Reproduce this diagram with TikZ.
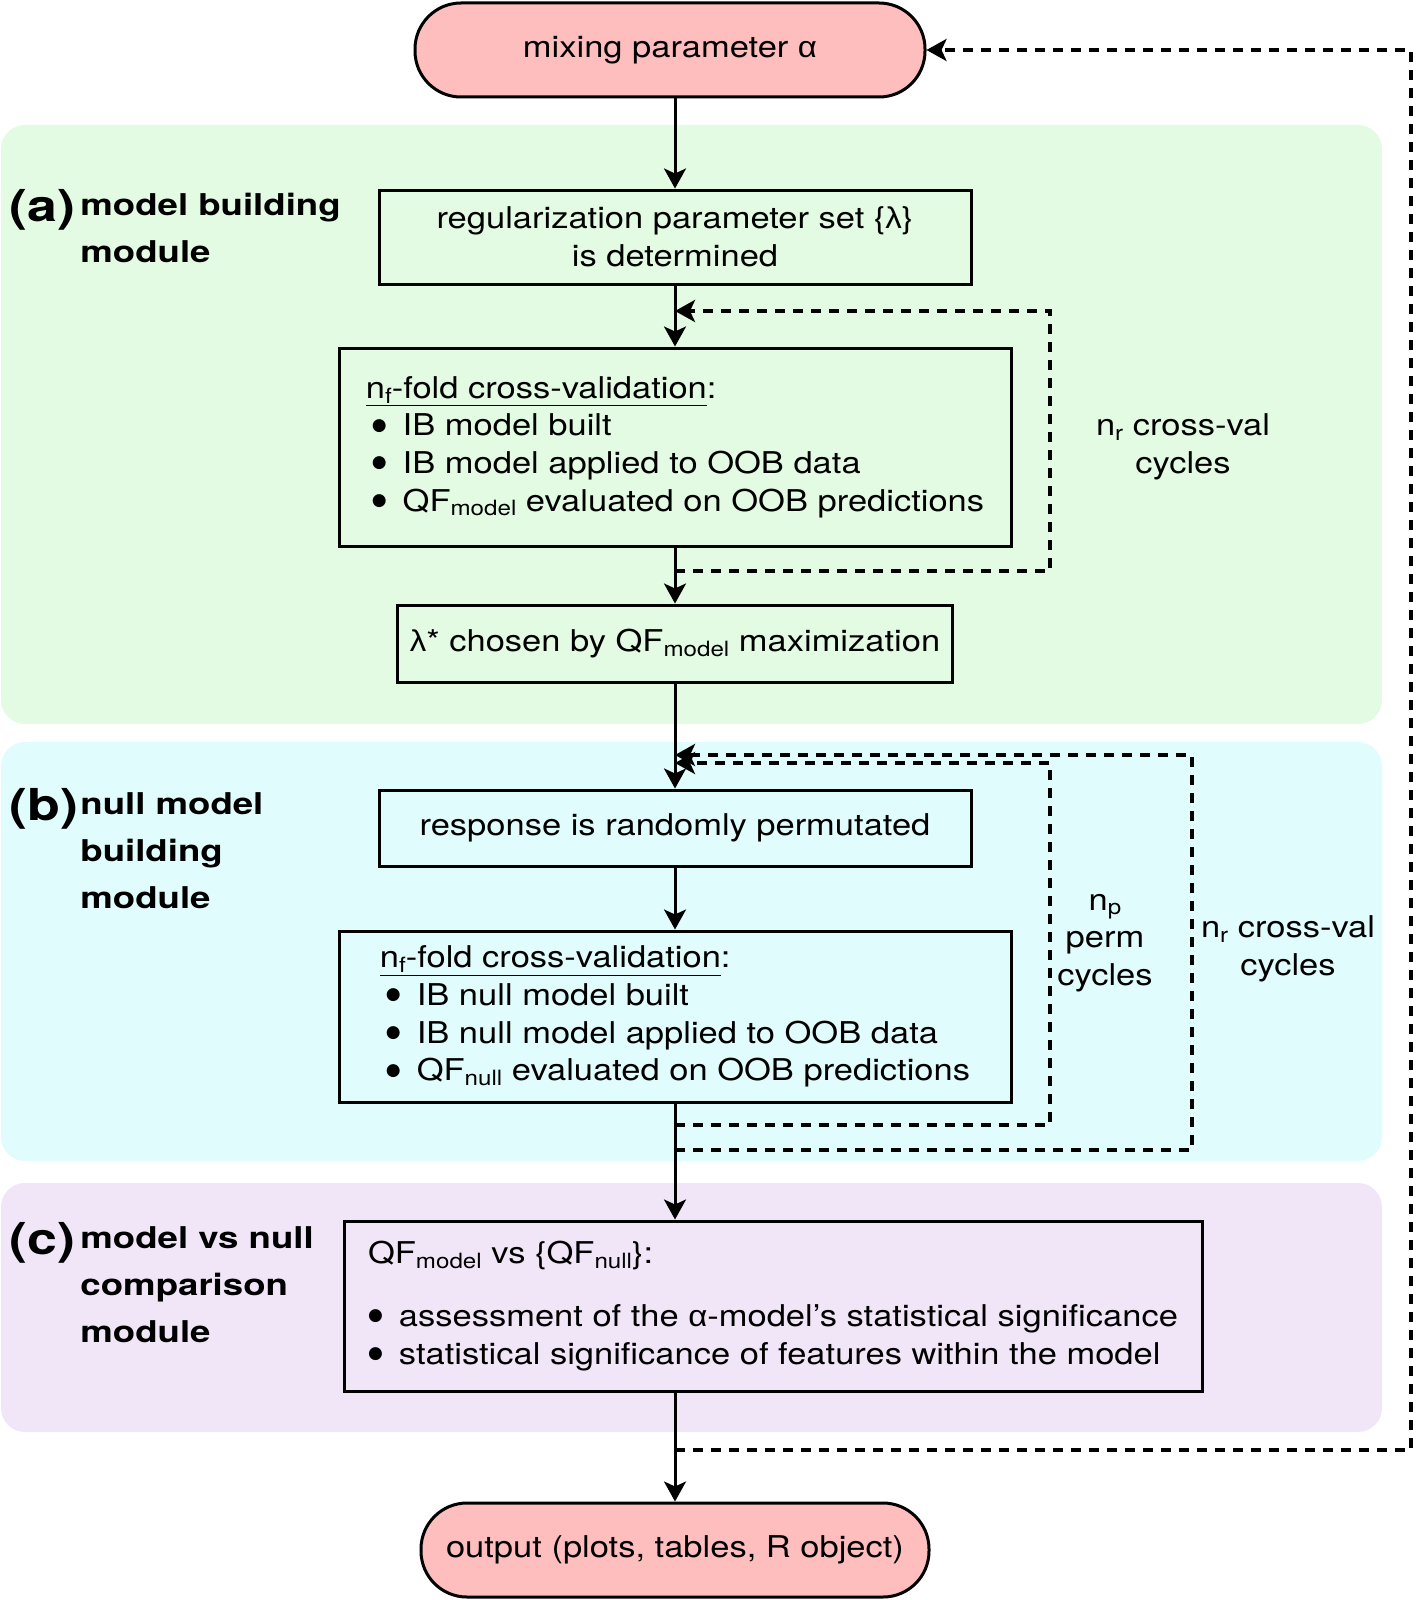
\documentclass[tikz,border=0pt]{standalone}
\usepackage{fontspec}
\setmainfont{TeX Gyre Heros}[FakeStretch=1.15]
\newfontfamily\labfont{TeX Gyre Heros}[FakeStretch=1.22]
\newfontfamily\grkfont{Liberation Sans}[FakeStretch=1.1]
\newfontfamily\dotfont{DejaVu Sans}
\usetikzlibrary{arrows.meta,calc}

\definecolor{termpink}{HTML}{FFBEBE}
\definecolor{panelgreen}{HTML}{E3FBE3}
\definecolor{panelblue}{HTML}{E0FCFC}
\definecolor{panelpurple}{HTML}{F1E6F7}

\newcommand\lo[1]{\raisebox{-0.3ex}{\fontsize{10.5}{10.5}\selectfont #1}}
\newcommand\blt{\raisebox{2.8pt}{\fontsize{8.5}{8.5}\selectfont\dotfont ●}\hspace{8pt}}
\newcommand\gk[1]{{\grkfont #1}}

\begin{document}
\begin{tikzpicture}[x=0.5pt, y=-0.5pt,
    every node/.style={font=\fontsize{15}{18.8}\selectfont, inner sep=0pt},
    term/.style={draw, line width=1.5pt, fill=termpink, rounded corners=23pt, minimum height=47pt},
    stepbox/.style={draw, line width=1.5pt, minimum height=47pt},
    flow/.style={line width=1.5pt, -{Stealth[length=10pt, width=11pt, inset=2.5pt]}},
    loopback/.style={line width=2pt, dash pattern=on 5pt off 4pt, -{Stealth[length=10pt, width=11pt, inset=2.5pt]}},
    partlabel/.style={font=\labfont\bfseries\fontsize{22}{22}\selectfont, anchor=base west},
    modlabel/.style={font=\labfont\bfseries\fontsize{15}{23.5}\selectfont, align=left, anchor=north west},
    cyclabel/.style={align=center}]
      \useasboundingbox (0,0) rectangle (1416,1600);
      % module panels
      \fill[panelgreen, rounded corners=12pt] (1,125) rectangle (1382,724);
      \fill[panelblue, rounded corners=12pt] (1,742) rectangle (1382,1161);
      \fill[panelpurple, rounded corners=12pt] (1,1183) rectangle (1382,1432);

      \node[partlabel] (tagA) at (9,221) {(a)};
      \node[modlabel] (modA) at (80,193) {model building\\module};
      \node[partlabel] (tagB) at (9,820) {(b)};
      \node[modlabel] (modB) at (80,792) {null model\\building\\module};
      \node[partlabel] (tagC) at (9,1254) {(c)};
      \node[modlabel] (modC) at (80,1226) {model vs null\\comparison\\module};

      % flow
      \node[term, minimum width=255pt] (alpha) at (670,50) {mixing parameter \gk{α}};
      \node[stepbox, minimum width=296pt, align=center] (regset) at (675,237) {regularization parameter set \{\gk{λ}\}\\is determined};
      \node[stepbox, minimum width=336pt, minimum height=99pt, align=left] (cvmodel) at (675,447) {\underline{n\lo{f}-fold cross-validation}:\\
        \hspace*{3pt}\blt IB model built\\
        \hspace*{3pt}\blt IB model applied to OOB data\\
        \hspace*{3pt}\blt QF\lo{model} evaluated on OOB predictions};
      \node[stepbox, minimum width=277.5pt, minimum height=38.5pt] (lamstar) at (675,643.5) {\gk{λ}* chosen by QF\lo{model} maximization};
      \node[stepbox, minimum width=296pt, minimum height=38pt] (perm) at (675,828) {response is randomly permutated};
      \node[stepbox, minimum width=336pt, minimum height=85.5pt, align=left] (cvnull) at (675,1016.5) {\underline{n\lo{f}-fold cross-validation}:\\
        \hspace*{3pt}\blt IB null model built\\
        \hspace*{3pt}\blt IB null model applied to OOB data\\
        \hspace*{3pt}\blt QF\lo{null} evaluated on OOB predictions};
      \node[stepbox, minimum width=429pt, minimum height=85pt, align=left] (compare) at (773,1306) {QF\lo{model} vs \{QF\lo{null}\}:\\[12.5pt]
        \blt assessment of the \gk{α}-model’s statistical significance\\
        \blt statistical significance of features within the model};
      \node[term, minimum width=254pt] (output) at (675,1550) {output (plots, tables, R object)};

      \node[cyclabel] (cycA) at (1183,447) {n\lo{r} cross-val\\cycles};
      \node[cyclabel] (cycP) at (1105,943) {n\lo{p}\\perm\\cycles};
      \node[cyclabel] (cycB) at (1288,949) {n\lo{r} cross-val\\cycles};

      \draw[flow] (alpha.south -| regset.north) -- (regset.north);
      \draw[flow] (regset.south) -- (cvmodel.north);
      \draw[flow] (cvmodel.south) -- (lamstar.north);
      \draw[flow] (lamstar.south) -- (perm.north);
      \draw[flow] (perm.south) -- (cvnull.north);
      \draw[flow] (cvnull.south) -- (cvnull.south |- compare.north);
      \draw[flow] (output.north |- compare.south) -- (output.north);

      % repeat loops
      \coordinate (aout) at (675,571);
      \coordinate (ain) at (675,311);
      \coordinate (pout) at (675,1125);
      \coordinate (pin) at (675,763);
      \coordinate (rout) at (675,1150);
      \coordinate (rin) at (675,755);
      \coordinate (fout) at (675,1450);
      \draw[loopback] (aout) -- ++(375,0) |- (ain);
      \draw[loopback] (pout) -- ++(375,0) |- (pin);
      \draw[loopback] (rout) -- ++(517,0) |- (rin);
      \draw[loopback] (fout) -- ++(736,0) |- (alpha.east);
    \end{tikzpicture}
\end{document}
